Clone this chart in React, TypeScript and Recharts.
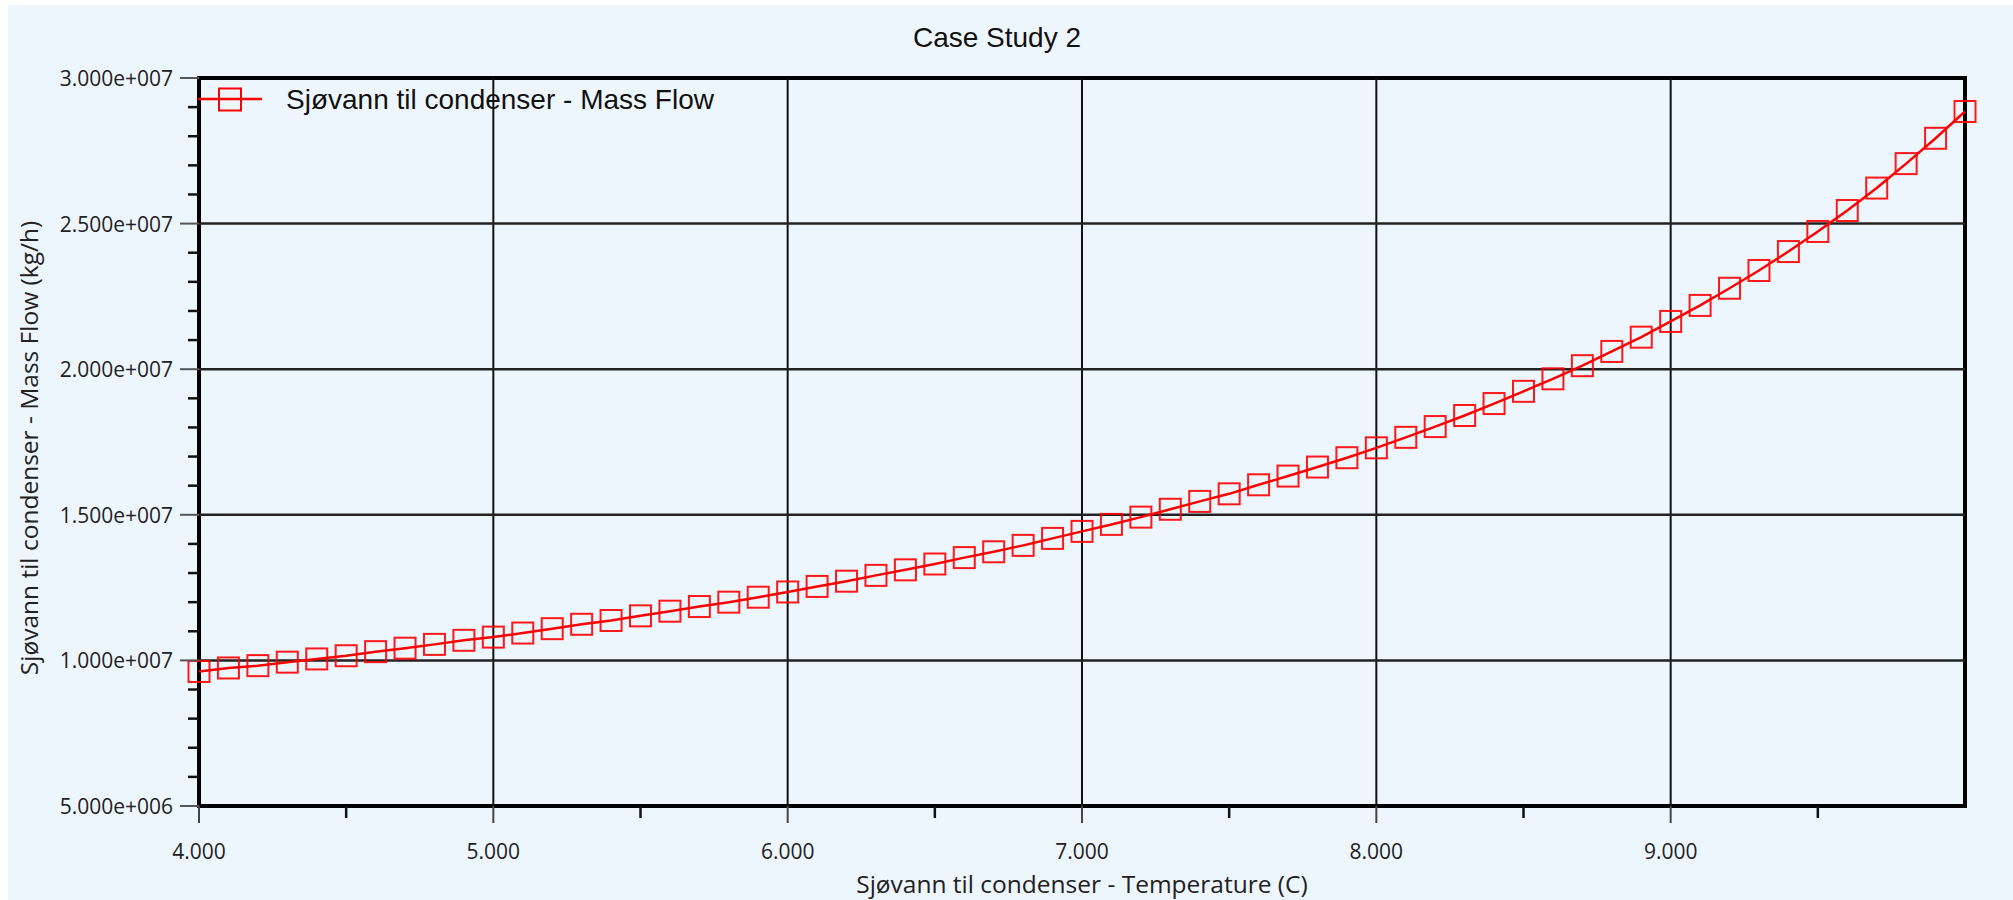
import React from 'react';
import { LineChart, Line, XAxis, YAxis, ReferenceLine, ReferenceArea, Legend } from 'recharts';

// ---- data ----
const temperatures = [
  4.0, 4.1, 4.2, 4.3, 4.4, 4.5, 4.6, 4.7, 4.8, 4.9,
  5.0, 5.1, 5.2, 5.3, 5.4, 5.5, 5.6, 5.7, 5.8, 5.9,
  6.0, 6.1, 6.2, 6.3, 6.4, 6.5, 6.6, 6.7, 6.8, 6.9,
  7.0, 7.1, 7.2, 7.3, 7.4, 7.5, 7.6, 7.7, 7.8, 7.9,
  8.0, 8.1, 8.2, 8.3, 8.4, 8.5, 8.6, 8.7, 8.8, 8.9,
  9.0, 9.1, 9.2, 9.3, 9.4, 9.5, 9.6, 9.7, 9.8, 9.9,
  10.0,
];

const massFlows = [
  9.62e6, 9.74e6, 9.82e6, 9.94e6, 10.05e6, 10.16e6, 10.30e6, 10.42e6, 10.55e6, 10.69e6,
  10.80e6, 10.94e6, 11.09e6, 11.24e6, 11.37e6, 11.53e6, 11.69e6, 11.85e6, 12.00e6, 12.17e6,
  12.35e6, 12.54e6, 12.72e6, 12.92e6, 13.11e6, 13.31e6, 13.53e6, 13.73e6, 13.95e6, 14.19e6,
  14.43e6, 14.67e6, 14.92e6, 15.19e6, 15.46e6, 15.72e6, 16.03e6, 16.33e6, 16.64e6, 16.96e6,
  17.30e6, 17.66e6, 18.03e6, 18.41e6, 18.82e6, 19.24e6, 19.67e6, 20.12e6, 20.61e6, 21.10e6,
  21.64e6, 22.19e6, 22.78e6, 23.39e6, 24.04e6, 24.73e6, 25.45e6, 26.22e6, 27.06e6, 27.93e6,
  28.85e6,
];

const xTicks = [4, 4.5, 5, 5.5, 6, 6.5, 7, 7.5, 8, 8.5, 9, 9.5];
const xLabelTicks = [4, 5, 6, 7, 8, 9];
const xGridValues = [5, 6, 7, 8, 9];

const yTicks = [
  5e6, 6e6, 7e6, 8e6, 9e6, 10e6, 11e6, 12e6, 13e6, 14e6, 15e6, 16e6, 17e6,
  18e6, 19e6, 20e6, 21e6, 22e6, 23e6, 24e6, 25e6, 26e6, 27e6, 28e6, 29e6, 30e6,
];
const yLabelTicks = [5e6, 10e6, 15e6, 20e6, 25e6, 30e6];
const yGridValues = [10e6, 15e6, 20e6, 25e6];

const titleText = 'Case Study 2';
const seriesName = 'Sjøvann til condenser - Mass Flow';
const xAxisTitle = 'Sjøvann til condenser - Temperature (C)';
const yAxisTitle = 'Sjøvann til condenser - Mass Flow (kg/h)';

const data = temperatures.map((t, i) => ({ t, flow: massFlows[i] }));

// ---- styling ----
const BG = '#EEF6FD';
const RED = '#FF0000';
const TICK_FONT = '"Open Sans", "Noto Sans", sans-serif';
const ARIAL = '"Liberation Sans", Arial, sans-serif';

const fmtSci = (v: number) => {
  const exp = Math.floor(Math.log10(v) + 1e-9);
  const mant = v / Math.pow(10, exp);
  return `${mant.toFixed(3)}e+${String(exp).padStart(3, '0')}`;
};

const isIn = (arr: number[], v: number) => arr.some((a) => Math.abs(a - v) < 1e-9 * Math.max(1, Math.abs(a)));

const XTick = (props: any) => {
  const { x, y, payload } = props;
  const v = payload.value;
  const major = isIn(xLabelTicks, v) || Number.isInteger(v);
  return (
    <g>
      <line x1={x} x2={x} y1={y} y2={y + (major ? 17 : 12)} stroke={major ? '#444' : '#111'} strokeWidth={major ? 2 : 2.5} />
      {isIn(xLabelTicks, v) && (
        <text x={x} y={y + 45} textAnchor="middle" dominantBaseline="central" fontFamily={TICK_FONT} fontSize={21} fill="#222">
          {v.toFixed(3)}
        </text>
      )}
    </g>
  );
};

const YTick = (props: any) => {
  const { x, y, payload } = props;
  const v = payload.value;
  const major = isIn(yLabelTicks, v);
  return (
    <g>
      <line x1={x - (major ? 19 : 11)} x2={x} y1={y} y2={y} stroke={major ? '#555' : '#111'} strokeWidth={major ? 2 : 2.5} />
      {major && (
        <text x={x - 26} y={y} textAnchor="end" dominantBaseline="central" fontFamily={TICK_FONT} fontSize={21} fill="#222">
          {fmtSci(v)}
        </text>
      )}
    </g>
  );
};

const SquareDot = (props: any) => {
  const { cx, cy, index } = props;
  if (cx == null || cy == null) return <g key={`d${index}`} />;
  return (
    <rect key={`d${index}`} x={cx - 10.5} y={cy - 10.5} width={21} height={21} fill="none" stroke={RED} strokeWidth={2} strokeOpacity={0.9} />
  );
};

const XLabel = (props: any) => {
  const vb = props.viewBox || { x: 191, y: 801, width: 1766, height: 94 };
  return (
    <text x={vb.x + vb.width / 2} y={vb.y + 77} textAnchor="middle" dominantBaseline="central" fontFamily={TICK_FONT} fontSize={24.5} fill="#222">
      {xAxisTitle}
    </text>
  );
};

const YLabel = (props: any) => {
  const vb = props.viewBox || { x: 0, y: 73, width: 191, height: 728 };
  const cx = 20;
  const cy = vb.y + vb.height / 2 + 6;
  return (
    <text x={cx} y={cy} transform={`rotate(-90 ${cx} ${cy})`} textAnchor="middle" dominantBaseline="central" fontFamily={TICK_FONT} fontSize={24.5} fill="#222">
      {yAxisTitle}
    </text>
  );
};

const LegendContent = () => (
  <div style={{ display: 'flex', alignItems: 'center', height: 34 }}>
    <svg width={64} height={34} style={{ display: 'block' }}>
      <line x1={0} x2={64} y1={16} y2={16} stroke={RED} strokeWidth={2.5} />
      <rect x={21} y={5.5} width={22} height={22} fill="none" stroke={RED} strokeWidth={2} />
    </svg>
    <span style={{ marginLeft: 24, fontFamily: ARIAL, fontSize: 28, color: '#111', whiteSpace: 'nowrap', lineHeight: '34px' }}>
      {seriesName}
    </span>
  </div>
);

export default function App() {
  return (
    <div style={{ position: 'fixed', left: 8, top: 5, width: 2005, height: 895, background: BG, overflow: 'hidden' }}>
      <div
        style={{
          position: 'absolute', left: 789, top: 17, width: 400, textAlign: 'center',
          fontFamily: ARIAL, fontSize: 28, lineHeight: '32px', color: '#111',
        }}
      >
        {titleText}
      </div>
      <LineChart width={2005} height={895} data={data} margin={{ top: 73, right: 48, bottom: 0, left: 0 }}>
        <XAxis
          type="number"
          dataKey="t"
          domain={[4, 10]}
          ticks={xTicks}
          interval={0}
          tick={<XTick />}
          tickLine={false}
          axisLine={false}
          tickSize={0}
          tickMargin={0}
          height={94}
          label={{ content: XLabel }}
        />
        <YAxis
          type="number"
          domain={[5e6, 3e7]}
          ticks={yTicks}
          interval={0}
          tick={<YTick />}
          tickLine={false}
          axisLine={false}
          tickSize={0}
          tickMargin={0}
          width={191}
          label={{ content: YLabel }}
        />
        {xGridValues.map((v) => (
          <ReferenceLine key={`gx${v}`} x={v} stroke="#111" strokeWidth={2} />
        ))}
        {yGridValues.map((v) => (
          <ReferenceLine key={`gy${v}`} y={v} stroke="#222" strokeWidth={2.5} />
        ))}
        <ReferenceArea x1={4} x2={10} y1={5e6} y2={3e7} fill="none" fillOpacity={0} stroke="#000" strokeWidth={4} />
        <Legend
          layout="horizontal"
          verticalAlign="middle"
          align="center"
          content={<LegendContent />}
          wrapperStyle={{ position: 'absolute', left: 190, top: 78, width: 700, height: 34 }}
        />
        <Line
          type="linear"
          dataKey="flow"
          name={seriesName}
          stroke={RED}
          strokeWidth={2.5}
          dot={SquareDot}
          activeDot={false}
          isAnimationActive={false}
        />
      </LineChart>
    </div>
  );
}
